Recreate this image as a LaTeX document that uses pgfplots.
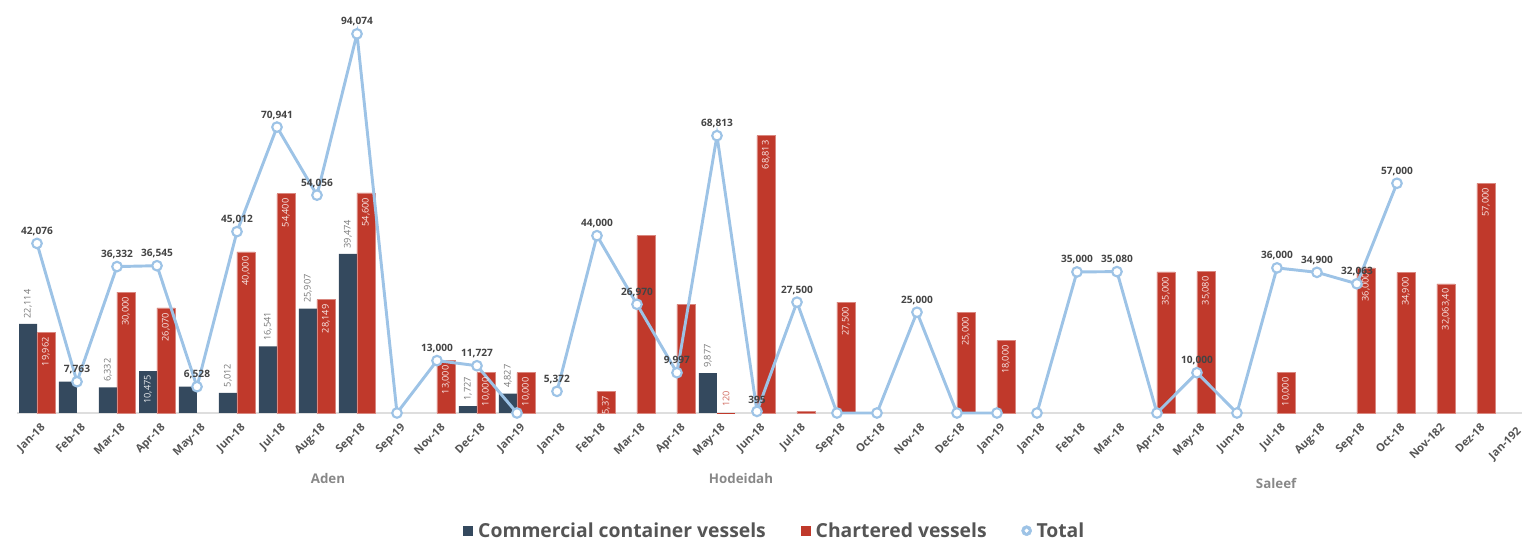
\documentclass[border=0pt]{standalone}
\usepackage{pgfplots}
\pgfplotsset{compat=1.18}
\usepackage{fontspec}
\setmainfont{Open Sans}

\definecolor{darkbar}{HTML}{34495E}
\definecolor{redbar}{HTML}{C0392B}
\definecolor{totline}{HTML}{9DC3E6}
\definecolor{lbl}{HTML}{444444}
\definecolor{ticktxt}{HTML}{555555}
\definecolor{grp}{HTML}{888888}
\definecolor{barlbl}{HTML}{777777}
\tikzset{barlab/.style={font=\fontsize{6.9}{7}\selectfont, rotate=90}}

% 1 px of the reference = 0.75pt; one category = 40 px
% bars sit half a bar width (0.225 category) left / right of the category centre
\begin{document}
\begin{tikzpicture}
\path[use as bounding box, clip] (0,0) rectangle (1141.5pt,405.75pt);
\begin{axis}[
  at={(12.75pt,96pt)}, anchor=south west,
  scale only axis, width=1140pt, height=302.25pt,
  xmin=-0.5, xmax=37.5, ymin=0, ymax=100000,
  axis x line*=bottom, axis y line=none,
  x axis line style={draw=black!13, line width=1.1pt},
  xtick={0,...,37},
  xticklabels={Jan-18,Feb-18,Mar-18,Apr-18,May-18,Jun-18,Jul-18,Aug-18,Sep-18,Sep-19,Nov-18,Dec-18,Jan-19,
    Jan-18,Feb-18,Mar-18,Apr-18,May-18,Jun-18,Jul-18,Sep-18,Oct-18,Nov-18,Dec-18,Jan-19,
    Jan-18,Feb-18,Mar-18,Apr-18,May-18,Jun-18,Jul-18,Aug-18,Sep-18,Oct-18,Nov-182,Dez-18,Jan-192\kern4pt},
  major tick length=0pt,
  xticklabel style={rotate=45, anchor=north east, font=\bfseries\fontsize{8.3}{9}\selectfont, text=ticktxt,
    yshift=-3pt},
  clip=false,
  legend columns=-1,
  legend style={at={(0.4987,-0.292)}, anchor=center, draw=none, inner sep=0pt,
    nodes={inner ysep=0pt},
    font=\bfseries\fontsize{14.5}{17}\selectfont\color{ticktxt},
    /tikz/every even column/.append style={column sep=24pt}},
]

% commercial container vessels, label above the bar
\addplot[ybar, bar width=13.5pt, bar shift=0pt, fill=darkbar, draw=none, forget plot,
  nodes near coords, point meta=explicit symbolic,
  nodes near coords style={barlab, anchor=west, inner xsep=4pt, text=barlbl}]
  table[meta=lab] {
x y lab
-0.225 22114 22,114
1.775 6332 6,332
4.775 5012 5,012
5.775 16541 16,541
6.775 25907 25,907
7.775 39474 39,474
10.775 1727 1,727
11.775 4827 4,827
16.775 9877 9,877
};
% commercial, label inside
\addplot[ybar, bar width=13.5pt, bar shift=0pt, fill=darkbar, draw=none, forget plot,
  nodes near coords, point meta=explicit symbolic,
  nodes near coords style={barlab, anchor=east, inner xsep=3pt, text=white!90!darkbar}]
  table[meta=lab] {
x y lab
2.775 10475 10,475
};
% commercial, no label
\addplot[ybar, bar width=13.5pt, bar shift=0pt, fill=darkbar, draw=none, forget plot]
  table {
x y
0.775 7763
3.775 6528
};

% chartered vessels, label inside
\addplot[ybar, bar width=13.5pt, bar shift=0pt, fill=redbar, draw=redbar!60!white, line width=0.4pt, forget plot,
  nodes near coords, point meta=explicit symbolic,
  nodes near coords style={barlab, anchor=east, inner xsep=3.5pt, text=white!90!redbar}]
  table[meta=lab] {
x y lab
0.225 19962 19,962
2.225 30000 30,000
3.225 26070 26,070
5.225 40000 40,000
6.225 54400 54,400
7.225 28149 28,149
8.225 54600 54,600
10.225 13000 13,000
11.225 10000 10,000
12.225 10000 10,000
14.225 5372 5,37
18.225 68813 68,813
20.225 27500 27,500
23.225 25000 25,000
24.225 18000 18,000
28.225 35000 35,000
29.225 35080 35,080
31.225 10000 10,000
33.225 36000 36,000
34.225 34900 34,900
35.225 32063.4 32,063,40
36.225 57000 57,000
};
% chartered, no label
\addplot[ybar, bar width=13.5pt, bar shift=0pt, fill=redbar, draw=redbar!60!white, line width=0.4pt, forget plot]
  table {
x y
15.225 44000
16.225 26970
19.225 395
};
% chartered, label above in red
\addplot[ybar, bar width=13.5pt, bar shift=0pt, fill=redbar, draw=none, forget plot,
  nodes near coords, point meta=explicit symbolic,
  nodes near coords style={barlab, anchor=west, inner xsep=4pt, text=redbar!75!white}]
  table[meta=lab] {
x y lab
17.225 120 120
};

% total, one line per port
\pgfplotsset{totstyle/.style={forget plot, color=totline, line width=2.2pt, mark=*, mark size=3.6pt,
  mark options={fill=white, draw=totline, line width=1.6pt},
  nodes near coords, point meta=explicit symbolic,
  nodes near coords style={font=\bfseries\fontsize{7.6}{8}\selectfont, text=lbl, anchor=south,
    inner sep=1pt, yshift=4pt}}}
\addplot[totstyle] table[meta=lab] {
x y lab
0 42076 42,076
1 7763 7,763
2 36332 36,332
3 36545 36,545
4 6528 6,528
5 45012 45,012
6 70941 70,941
7 54056 54,056
8 94074 94,074
9 0 {}
10 13000 13,000
11 11727 11,727
12 0 {}
};
\addplot[totstyle] table[meta=lab] {
x y lab
13 5372 5,372
14 44000 44,000
15 26970 26,970
16 9997 9,997
17 68813 68,813
18 395 395
19 27500 27,500
20 0 {}
21 0 {}
22 25000 25,000
23 0 {}
24 0 {}
};
\addplot[totstyle] table[meta=lab] {
x y lab
25 0 {}
26 35000 35,000
27 35080 35,080
28 0 {}
29 10000 10,000
30 0 {}
31 36000 36,000
32 34900 34,900
33 32063 32,063
34 57000 57,000
};

\addlegendimage{legend image code/.code={\fill[darkbar] (0pt,-3.4pt) rectangle (6.8pt,3.4pt); \path (9pt,0pt);}}
\addlegendentry{Commercial container vessels}
\addlegendimage{legend image code/.code={\fill[redbar] (0pt,-3.4pt) rectangle (6.8pt,3.4pt); \path (9pt,0pt);}}
\addlegendentry{Chartered\ vessels}
\addlegendimage{legend image code/.code={\fill[totline] (3.8pt,0pt) circle (3.8pt); \fill[white] (3.8pt,0pt) circle (1.3pt); \path (9pt,0pt);}}
\addlegendentry{Total}

\node[font=\bfseries\fontsize{10}{12}\selectfont, text=grp] at (axis cs:7.275,-16133) {Aden};
\node[font=\bfseries\fontsize{10}{12}\selectfont, text=grp] at (axis cs:17.6,-16133) {Hodeidah};
\node[font=\bfseries\fontsize{10}{12}\selectfont, text=grp] at (axis cs:30.98,-17374) {Saleef};
\end{axis}
\end{tikzpicture}
\end{document}
